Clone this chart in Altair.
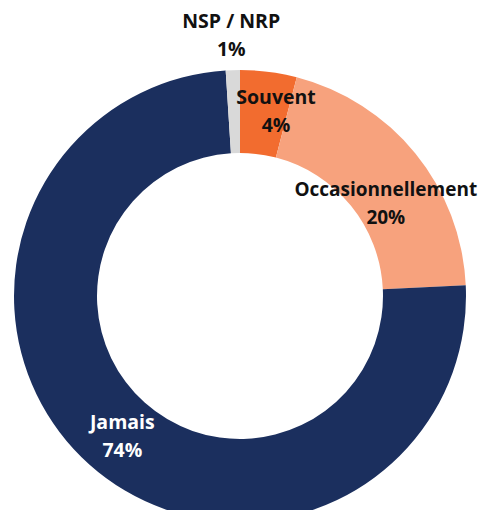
import altair as alt
import pandas as pd

categories = ["Souvent", "Occasionnellement", "Jamais", "NSP / NRP"]
values = [4, 20, 74, 1]
order_idx = [1, 2, 3, 4]
colors = ["#F26C2F", "#F7A27D", "#1B2F5E", "#D9D9D9"]

df = pd.DataFrame({"cat": categories, "value": values, "idx": order_idx})

base = alt.Chart(df).encode(
    theta=alt.Theta("value:Q", stack=True),
    order=alt.Order("idx:Q"),
).transform_calculate(
    label="datum.cat + '\\n' + datum.value + '%'"
)

cx, cy = 232, 288
FONT = "Open Sans"
FS = 19.5
LH = 28

arcs = base.mark_arc(outerRadius=226, innerRadius=143, x=cx, y=cy).encode(
    color=alt.Color("cat:N", scale=alt.Scale(domain=categories, range=colors), legend=None),
)


def label_layer(cat, radius, dx, dy, color, fs=FS):
    return base.mark_text(
        radius=radius, x=cx, y=cy, dx=dx, dy=dy, font=FONT, fontWeight="bold",
        fontSize=fs, lineBreak="\n", lineHeight=LH, color=color,
    ).encode(
        text=alt.condition(f"datum.cat == '{cat}'", "label:N", alt.value("")),
    )


layers = [
    arcs,
    label_layer("Souvent", 198, 11, -2, "#111111"),
    label_layer("Occasionnellement", 184, 3, 10, "#111111", fs=19),
    label_layer("Jamais", 172, -3, -1, "#FFFFFF"),
    label_layer("NSP / NRP", 276, 0, 2, "#111111"),
]

chart = alt.layer(*layers).properties(
    width=473, height=502, padding=0,
    autosize=alt.AutoSizeParams(type="none"),
).configure_view(stroke=None)

chart.save("out.html", embed_options={"renderer": "svg", "actions": False})
